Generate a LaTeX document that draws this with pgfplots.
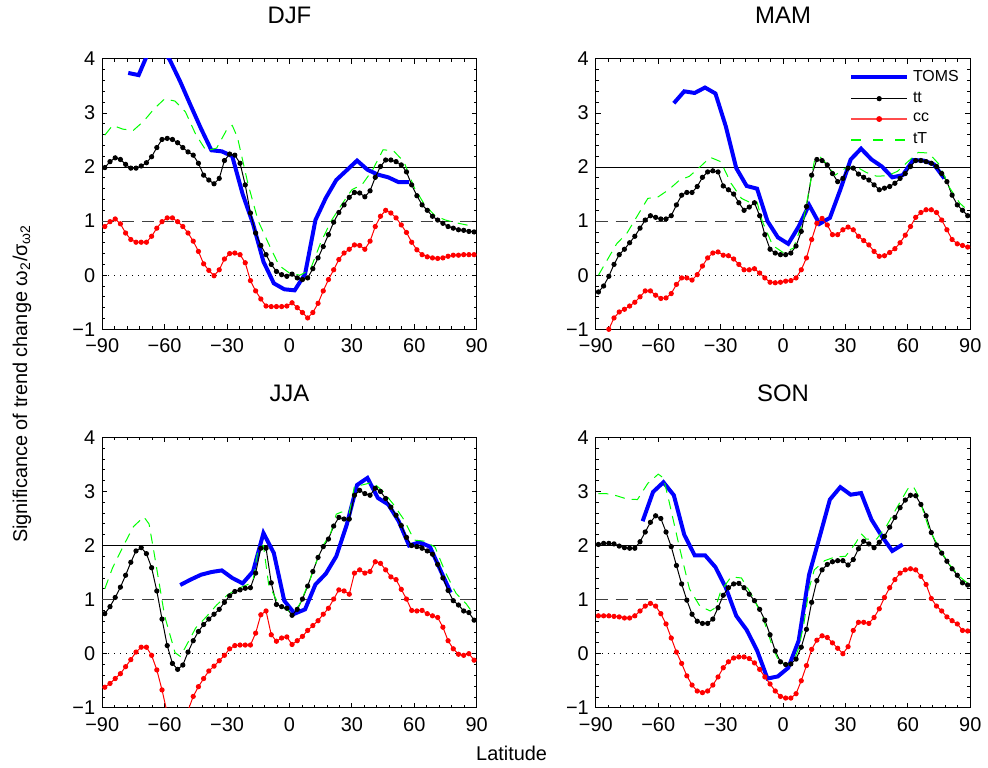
\documentclass[border=0pt]{standalone}
\usepackage{fontspec}
\setmainfont{Liberation Sans}
\usepackage{pgfplots}
\usepackage{pgfplotstable}
\pgfplotsset{compat=1.18}
\usepgfplotslibrary{groupplots}

% zonal significance, 2.5 deg grid: lat, tt, cc
\pgfplotstableread{
lat tt cc
-88.75 1.99 0.90
-86.25 2.10 0.99
-83.75 2.17 1.04
-81.25 2.14 0.95
-78.75 2.05 0.78
-76.25 1.98 0.66
-73.75 1.98 0.61
-71.25 2.02 0.61
-68.75 2.08 0.61
-66.25 2.19 0.72
-63.75 2.36 0.87
-61.25 2.51 0.99
-58.75 2.53 1.06
-56.25 2.51 1.06
-53.75 2.45 0.99
-51.25 2.36 0.90
-48.75 2.28 0.78
-46.25 2.22 0.63
-43.75 2.07 0.44
-41.25 1.85 0.21
-38.75 1.76 0.09
-36.25 1.69 -0.01
-33.75 1.79 0.10
-31.25 2.12 0.30
-28.75 2.24 0.40
-26.25 2.22 0.41
-23.75 2.07 0.38
-21.25 1.67 0.23
-18.75 1.15 -0.10
-16.25 0.78 -0.29
-13.75 0.55 -0.44
-11.25 0.38 -0.57
-8.75 0.20 -0.58
-6.25 0.07 -0.58
-3.75 0.01 -0.58
-1.25 -0.02 -0.57
1.25 0.02 -0.51
3.75 -0.05 -0.60
6.25 -0.08 -0.69
8.75 -0.05 -0.79
11.25 0.12 -0.69
13.75 0.32 -0.52
16.25 0.53 -0.29
18.75 0.75 -0.08
21.25 0.98 0.10
23.75 1.16 0.29
26.25 1.30 0.41
28.75 1.44 0.48
31.25 1.53 0.56
33.75 1.52 0.55
36.25 1.45 0.48
38.75 1.56 0.63
41.25 1.81 0.90
43.75 2.01 1.09
46.25 2.13 1.20
48.75 2.13 1.15
51.25 2.10 1.06
53.75 2.04 0.93
56.25 1.91 0.79
58.75 1.67 0.61
61.25 1.47 0.47
63.75 1.30 0.38
66.25 1.20 0.34
68.75 1.09 0.32
71.25 1.02 0.31
73.75 0.96 0.32
76.25 0.90 0.35
78.75 0.87 0.37
81.25 0.84 0.37
83.75 0.83 0.38
86.25 0.81 0.38
88.75 0.80 0.38
}\djf

\pgfplotstableread{
lat tt cc
-88.75 -0.31 -1.35
-86.25 -0.20 -1.18
-83.75 -0.02 -1.00
-81.25 0.20 -0.79
-78.75 0.38 -0.68
-76.25 0.48 -0.63
-73.75 0.60 -0.57
-71.25 0.72 -0.50
-68.75 0.87 -0.40
-66.25 1.02 -0.29
-63.75 1.10 -0.29
-61.25 1.07 -0.37
-58.75 1.04 -0.43
-56.25 1.04 -0.42
-53.75 1.10 -0.34
-51.25 1.30 -0.17
-48.75 1.48 -0.05
-46.25 1.53 -0.05
-43.75 1.53 -0.09
-41.25 1.64 0.01
-38.75 1.81 0.17
-36.25 1.91 0.32
-33.75 1.93 0.41
-31.25 1.91 0.43
-28.75 1.65 0.37
-26.25 1.58 0.36
-23.75 1.50 0.30
-21.25 1.34 0.20
-18.75 1.20 0.10
-16.25 1.26 0.10
-13.75 1.34 0.12
-11.25 1.10 0.04
-8.75 0.75 -0.05
-6.25 0.48 -0.13
-3.75 0.41 -0.14
-1.25 0.38 -0.13
1.25 0.38 -0.11
3.75 0.41 -0.10
6.25 0.54 -0.05
8.75 0.81 0.10
11.25 1.27 0.32
13.75 1.85 0.66
16.25 2.14 0.96
18.75 2.12 1.05
21.25 2.04 0.93
23.75 1.88 0.75
26.25 1.73 0.75
28.75 1.79 0.84
31.25 1.98 0.89
33.75 1.98 0.84
36.25 1.87 0.72
38.75 1.81 0.64
41.25 1.76 0.56
43.75 1.67 0.44
46.25 1.58 0.35
48.75 1.61 0.36
51.25 1.64 0.42
53.75 1.70 0.49
56.25 1.79 0.60
58.75 1.88 0.74
61.25 2.01 0.90
63.75 2.12 1.07
66.25 2.12 1.16
68.75 2.10 1.21
71.25 2.07 1.21
73.75 2.01 1.16
76.25 1.88 1.02
78.75 1.73 0.84
81.25 1.48 0.66
83.75 1.30 0.58
86.25 1.20 0.55
88.75 1.10 0.52
}\mam

\pgfplotstableread{
lat tt cc
-88.75 0.74 -0.62
-86.25 0.87 -0.55
-83.75 1.04 -0.46
-81.25 1.23 -0.37
-78.75 1.45 -0.24
-76.25 1.69 -0.11
-73.75 1.90 0.03
-71.25 1.96 0.12
-68.75 1.85 0.12
-66.25 1.59 -0.03
-63.75 1.16 -0.30
-61.25 0.64 -0.67
-58.75 0.15 -1.10
-56.25 -0.18 -1.45
-53.75 -0.29 -1.60
-51.25 -0.21 -1.45
-48.75 0.03 -1.05
-46.25 0.24 -0.79
-43.75 0.41 -0.61
-41.25 0.54 -0.46
-38.75 0.64 -0.32
-36.25 0.73 -0.23
-33.75 0.82 -0.13
-31.25 0.95 -0.03
-28.75 1.07 0.09
-26.25 1.15 0.15
-23.75 1.18 0.16
-21.25 1.21 0.16
-18.75 1.22 0.16
-16.25 1.49 0.38
-13.75 1.95 0.72
-11.25 1.95 0.79
-8.75 1.31 0.35
-6.25 0.91 0.23
-3.75 0.87 0.29
-1.25 0.84 0.31
1.25 0.71 0.17
3.75 0.82 0.24
6.25 1.01 0.32
8.75 1.25 0.43
11.25 1.52 0.52
13.75 1.78 0.61
16.25 1.98 0.73
18.75 2.12 0.84
21.25 2.36 1.01
23.75 2.52 1.18
26.25 2.49 1.16
28.75 2.49 1.10
31.25 2.93 1.49
33.75 3.02 1.55
36.25 2.96 1.49
38.75 2.93 1.52
41.25 3.06 1.70
43.75 3.00 1.67
46.25 2.87 1.55
48.75 2.71 1.42
51.25 2.56 1.37
53.75 2.37 1.19
56.25 2.15 1.01
58.75 2.00 0.80
61.25 1.98 0.79
63.75 1.95 0.80
66.25 1.90 0.74
68.75 1.84 0.70
71.25 1.65 0.67
73.75 1.40 0.49
76.25 1.17 0.24
78.75 0.98 0.09
81.25 0.90 -0.01
83.75 0.79 -0.03
86.25 0.76 0.00
88.75 0.62 -0.12
}\jja

\pgfplotstableread{
lat tt cc
-88.75 2.02 0.70
-86.25 2.04 0.70
-83.75 2.04 0.70
-81.25 2.03 0.69
-78.75 1.99 0.68
-76.25 1.96 0.66
-73.75 1.95 0.66
-71.25 1.95 0.70
-68.75 2.07 0.79
-66.25 2.25 0.88
-63.75 2.43 0.93
-61.25 2.55 0.88
-58.75 2.50 0.74
-56.25 2.25 0.55
-53.75 1.98 0.29
-51.25 1.63 0.03
-48.75 1.29 -0.18
-46.25 0.99 -0.41
-43.75 0.73 -0.58
-41.25 0.60 -0.69
-38.75 0.56 -0.72
-36.25 0.56 -0.69
-33.75 0.64 -0.58
-31.25 0.85 -0.43
-28.75 1.08 -0.26
-26.25 1.22 -0.15
-23.75 1.29 -0.08
-21.25 1.30 -0.06
-18.75 1.22 -0.06
-16.25 1.10 -0.09
-13.75 0.98 -0.17
-11.25 0.82 -0.29
-8.75 0.62 -0.43
-6.25 0.35 -0.56
-3.75 0.05 -0.69
-1.25 -0.15 -0.79
1.25 -0.20 -0.82
3.75 -0.19 -0.82
6.25 -0.10 -0.74
8.75 0.12 -0.50
11.25 0.45 -0.22
13.75 0.95 0.08
16.25 1.35 0.25
18.75 1.55 0.33
21.25 1.65 0.30
23.75 1.70 0.20
26.25 1.72 0.10
28.75 1.72 0.00
31.25 1.64 0.13
33.75 1.74 0.43
36.25 1.94 0.58
38.75 2.08 0.58
41.25 2.03 0.56
43.75 1.96 0.67
46.25 2.06 0.83
48.75 2.17 1.04
51.25 2.34 1.22
53.75 2.52 1.37
56.25 2.70 1.49
58.75 2.84 1.55
61.25 2.93 1.57
63.75 2.92 1.55
66.25 2.76 1.43
68.75 2.55 1.28
71.25 2.24 1.02
73.75 2.01 0.88
76.25 1.86 0.79
78.75 1.71 0.68
81.25 1.57 0.61
83.75 1.45 0.55
86.25 1.31 0.43
88.75 1.27 0.42
}\son

% tT (dashed green)
\pgfplotstableread{
lat v
-88.75 2.59
-85 2.77
-80 2.70
-75 2.68
-70 2.85
-65 3.08
-60 3.26
-55 3.22
-50 3.02
-45 2.60
-40 2.30
-35 2.35
-30 2.70
-27.5 2.77
-25 2.55
-20 1.70
-15 1.00
-10 0.58
-5 0.18
0 0.04
5 0.00
10 0.10
15 0.60
20 1.00
25 1.30
30 1.58
35 1.68
40 1.95
45 2.32
50 2.30
55 2.10
60 1.62
65 1.30
70 1.10
75 1.02
80 0.97
85 0.93
88.75 0.90
}\djfT

\pgfplotstableread{
lat v
-88.75 0.00
-85 0.25
-80 0.58
-75 0.78
-70 1.10
-65 1.42
-60 1.45
-55 1.58
-50 1.75
-45 1.83
-40 2.00
-35 2.18
-30 2.10
-25 1.70
-20 1.42
-15 1.33
-12.5 1.35
-10 1.00
-5 0.55
0 0.42
5 0.50
10 1.05
15 2.10
17.5 2.20
20 2.10
25 1.85
30 1.98
35 2.01
40 1.90
45 1.83
50 1.84
55 1.92
60 2.10
65 2.27
70 2.26
75 2.05
80 1.62
85 1.33
88.75 1.20
}\mamT

\pgfplotstableread{
lat v
-88.75 1.20
-85 1.59
-80 1.98
-75 2.35
-70 2.53
-67.5 2.40
-65 1.85
-60 0.70
-55 0.02
-52.5 -0.05
-50 0.12
-45 0.48
-40 0.68
-35 0.90
-30 1.08
-25 1.20
-20 1.28
-17.5 1.36
-15 1.95
-12.5 2.00
-10 1.28
-5 0.90
0 0.78
2.5 0.78
5 0.92
10 1.38
15 1.92
20 2.25
22.5 2.58
25 2.62
28.75 2.60
31.25 3.10
35 3.12
40 3.17
45 3.00
50 2.76
55 2.48
60 2.10
65 2.08
70 1.97
75 1.50
80 1.12
85 0.92
88.75 0.72
}\jjaT

\pgfplotstableread{
lat v
-88.75 2.96
-85 2.96
-80 2.92
-75 2.86
-70 2.85
-65 3.15
-60 3.32
-57.5 3.25
-55 2.85
-50 2.00
-45 1.20
-40 0.88
-35 0.79
-32.5 0.85
-30 1.15
-25 1.42
-20 1.40
-15 1.08
-10 0.70
-5 0.12
-2.5 -0.10
0 -0.18
2.5 -0.20
5 -0.15
7.5 0.10
10 0.55
12.5 1.20
15 1.55
20 1.72
25 1.79
30 1.80
35 2.05
37.5 2.22
40 2.12
45 2.12
50 2.38
55 2.72
60 3.05
62.5 3.10
65 2.92
70 2.33
75 1.95
80 1.65
85 1.42
88.75 1.30
}\sonT

% TOMS, 5 deg bands
\pgfplotstableread{
lat v
-77.5 3.74
-72.5 3.70
-67.5 4.15
-62.5 4.25
-57.5 3.98
-52.5 3.58
-47.5 3.14
-42.5 2.71
-37.5 2.31
-32.5 2.29
-27.5 2.20
-22.5 1.50
-17.5 0.95
-12.5 0.25
-7.5 -0.15
-2.5 -0.26
2.5 -0.28
7.5 0.02
12.5 1.02
17.5 1.43
22.5 1.76
27.5 1.94
32.5 2.12
37.5 1.95
42.5 1.86
47.5 1.81
52.5 1.72
57.5 1.72
}\djfO

\pgfplotstableread{
lat v
-52.5 3.18
-47.5 3.40
-42.5 3.37
-37.5 3.47
-32.5 3.36
-27.5 2.75
-22.5 1.98
-17.5 1.65
-12.5 1.60
-7.5 1.00
-2.5 0.70
2.5 0.58
7.5 0.90
12.5 1.30
17.5 0.95
22.5 1.06
27.5 1.58
32.5 2.14
37.5 2.34
42.5 2.14
47.5 2.01
52.5 1.81
57.5 1.85
62.5 2.13
67.5 2.12
72.5 2.05
77.5 1.79
}\mamO

\pgfplotstableread{
lat v
-52.5 1.27
-47.5 1.37
-42.5 1.46
-37.5 1.51
-32.5 1.54
-27.5 1.40
-22.5 1.30
-17.5 1.52
-12.5 2.23
-7.5 1.86
-2.5 0.98
2.5 0.74
7.5 0.82
12.5 1.28
17.5 1.48
22.5 1.80
27.5 2.38
32.5 3.12
37.5 3.25
42.5 2.88
47.5 2.76
52.5 2.45
57.5 2.00
62.5 2.06
67.5 1.98
72.5 1.55
77.5 1.13
}\jjaO

\pgfplotstableread{
lat v
-67.5 2.45
-62.5 2.99
-57.5 3.17
-52.5 2.93
-47.5 2.20
-42.5 1.82
-37.5 1.82
-32.5 1.60
-27.5 1.22
-22.5 0.70
-17.5 0.44
-12.5 0.06
-7.5 -0.46
-2.5 -0.42
2.5 -0.26
7.5 0.24
12.5 1.46
17.5 2.15
22.5 2.85
27.5 3.08
32.5 2.94
37.5 2.97
42.5 2.48
47.5 2.17
52.5 1.90
57.5 2.02
}\sonO

\pgfplotsset{
  toms/.style={color=blue, line width=2pt, no markers},
  ttl/.style={color=black, line width=0.5pt, mark=*, mark size=1.05pt, mark options={solid}},
  ccl/.style={color=red, line width=0.5pt, mark=*, mark size=1.05pt, mark options={solid}},
  tTl/.style={color=green, line width=0.5pt, dash pattern=on 5pt off 3.5pt, no markers},
}
% reference levels 2 (solid), 1 (dashed), 0 (dotted)
\newcommand{\reflines}{%
  \addplot[black, line width=0.5pt, forget plot] coordinates {(-90,2) (90,2)};
  \addplot[black!75, line width=0.5pt, dash pattern=on 6pt off 4pt, forget plot] coordinates {(-90,1) (90,1)};
  \addplot[black, line width=0.5pt, dash pattern=on 0.5pt off 2.5pt, forget plot] coordinates {(-90,0) (90,0)};
}

\begin{document}
\begin{tikzpicture}
\begin{groupplot}[
  group style={group size=2 by 2, horizontal sep=59.85pt, vertical sep=54.3pt},
  width=188.15pt, height=135.85pt, scale only axis,
  xmin=-90, xmax=90, ymin=-1, ymax=4,
  xtick={-90,-60,...,90}, xticklabels={−90,−60,−30,0,30,60,90},
  ytick={-1,0,...,4}, yticklabels={−1,0,1,2,3,4},
  minor x tick num=4, minor y tick num=4,
  tick align=inside, major tick length=2.5pt, minor tick length=1.5pt,
  tick style={black, line width=0.4pt},
  axis line style={line width=0.5pt},
  tick label style={font=\fontsize{10}{12}\selectfont},
  xticklabel style={yshift=-1.2pt},
  title style={font=\fontsize{12}{14}\selectfont, at={(0.5,1)}, anchor=base, yshift=12pt},
]
\nextgroupplot[title={DJF}]
\coordinate (tl) at (rel axis cs:0,1);
\reflines
\addplot[toms] table[x=lat, y=v] {\djfO};
\addplot[ttl] table[x=lat, y=tt] {\djf};
\addplot[ccl] table[x=lat, y=cc] {\djf};
\addplot[tTl] table[x=lat, y=v] {\djfT};

\nextgroupplot[title={MAM},
  legend style={at={(0.66,0.99)}, anchor=north west, draw=none, fill=none,
    font=\fontsize{8}{9}\selectfont, legend cell align=left, row sep=0pt,
    /tikz/every even column/.append style={column sep=2pt}}]
\reflines
\addplot[toms, forget plot] table[x=lat, y=v] {\mamO};
\addplot[ttl, forget plot] table[x=lat, y=tt] {\mam};
\addplot[ccl, forget plot] table[x=lat, y=cc] {\mam};
\addplot[tTl, forget plot] table[x=lat, y=v] {\mamT};
\addlegendimage{legend image code/.code={
  \draw[blue, line width=2pt] plot coordinates {(0pt,0pt) (28pt,0pt)};}}
\addlegendentry{TOMS}
\addlegendimage{legend image code/.code={
  \draw[black, line width=0.5pt, mark=*, mark size=1.05pt, mark indices={2}, mark options={fill=black, draw=black}]
    plot coordinates {(0pt,0pt) (14pt,0pt) (28pt,0pt)};}}
\addlegendentry{tt}
\addlegendimage{legend image code/.code={
  \draw[red!70, draw=red!70, line width=0.8pt, mark=*, mark size=1.05pt, mark indices={2}, mark options={fill=red, draw=red}]
    plot coordinates {(0pt,0pt) (14pt,0pt) (28pt,0pt)};}}
\addlegendentry{cc}
\addlegendimage{legend image code/.code={
  \draw[green, draw=green, line width=0.8pt, dash pattern=on 5pt off 6pt]
    plot coordinates {(0pt,0pt) (28pt,0pt)};}}
\addlegendentry{tT}

\nextgroupplot[title={JJA}]
\reflines
\addplot[toms] table[x=lat, y=v] {\jjaO};
\addplot[ttl] table[x=lat, y=tt] {\jja};
\addplot[ccl] table[x=lat, y=cc] {\jja};
\addplot[tTl] table[x=lat, y=v] {\jjaT};

\nextgroupplot[title={SON}]
\reflines
\addplot[toms] table[x=lat, y=v] {\sonO};
\addplot[ttl] table[x=lat, y=tt] {\son};
\addplot[ccl] table[x=lat, y=cc] {\son};
\addplot[tTl] table[x=lat, y=v] {\sonT};
\end{groupplot}
\node[rotate=90, font=\fontsize{10}{12}\selectfont] at ([shift={(-40.3pt,-163.2pt)}]tl)
  {Significance of trend change ω\textsubscript{2}/σ\textsubscript{ω2}};
\node[font=\fontsize{10}{12}\selectfont] at ([shift={(205.7pt,-349pt)}]tl) {Latitude};
\path ([shift={(-51.35pt,27.5pt)}]tl) rectangle ([shift={(442.65pt,-353.5pt)}]tl);
\end{tikzpicture}
\end{document}
